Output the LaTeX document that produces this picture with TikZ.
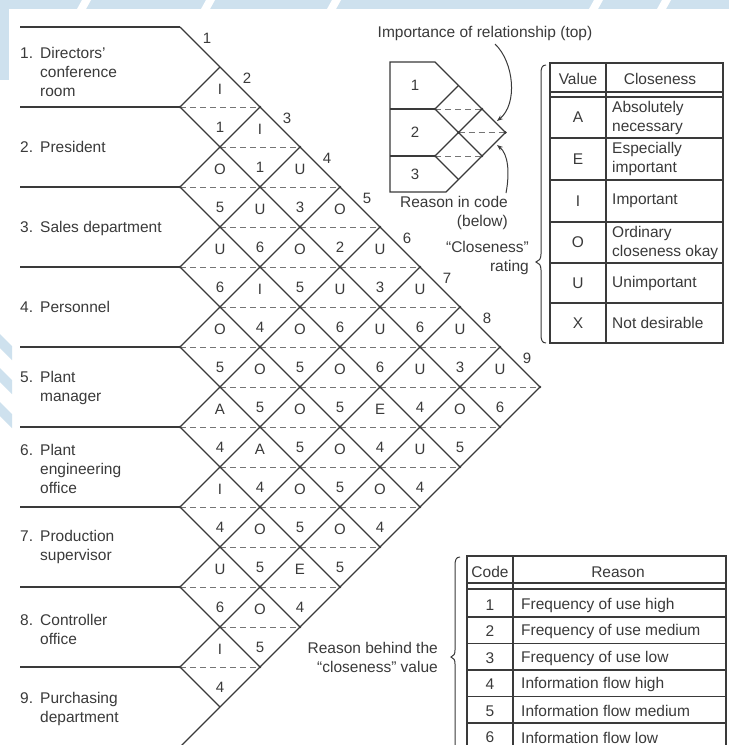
\documentclass[tikz,border=0pt]{standalone}
\usepackage{fontspec}
\setmainfont{Liberation Sans}
\usetikzlibrary{arrows.meta}
\definecolor{ink}{RGB}{58,58,58}
\definecolor{wash}{RGB}{206,225,238}
\begin{document}
\begin{tikzpicture}[x=1pt,y=-1pt,
  gridline/.style={draw=ink,line width=1.2pt},
  rowline/.style={draw=ink,line width=1.5pt},
  halfline/.style={draw=ink!70,line width=1pt,dash pattern=on 6pt off 4pt},
  joint/.style={fill=ink},
  txt/.style={font=\fontsize{15.5}{19}\selectfont,text=ink,inner sep=0pt},
  deptlabel/.style={txt,align=left,anchor=west},
  grade/.style={txt,font=\fontsize{15}{18}\selectfont},
  tabline/.style={draw=ink,line width=1.1pt},
  pointer/.style={draw=ink,line width=1pt,-{Stealth[length=6pt,width=4.5pt]}},
  note/.style={txt,align=right,anchor=east},
  entry/.style={txt,align=left,anchor=west}
]
\useasboundingbox (0,0) rectangle (729,745);
\fill[white] (0,0) rectangle (729,745);

% faint blue wash along the top and left margins
\fill[wash] (0,0) rectangle (729,9);
\fill[wash] (0,0) rectangle (9,80);
\foreach \xa in {82,206,332,594,662}
  \fill[white] (\xa,0) -- ({\xa+9},0) -- ({\xa+4},9) -- ({\xa-5},9) -- cycle;
\foreach \ya in {334,368,402}
  \fill[wash] (0,\ya) -- (0,{\ya+14}) -- (12,{\ya+26}) -- (12,{\ya+12}) -- cycle;

% ---------- relationship chart ----------
\foreach \k in {0,...,9} {
  \coordinate (L\k) at (180,{27+80*\k});
  \coordinate (E\k) at (20,{27+80*\k});
}
\foreach \k in {0,...,8} \draw[rowline] (E\k) -- (L\k);

% dashed half-lines through the diamond centres
\foreach \s in {2,...,16} {
  \pgfmathsetmacro\yy{27+40*\s}
  \pgfmathsetmacro\xl{isodd(\s) ? 220 : 180}
  \pgfmathsetmacro\xr{\s < 10 ? 180+40*\s : 900-40*\s}
  \coordinate (HL\s) at (\xl,\yy);
  \coordinate (HR\s) at (\xr,\yy);
  \draw[halfline] (HL\s) -- (HR\s);
}

% diagonals: falling from each row point, rising from each row point
\foreach \k in {0,...,8} {
  \coordinate (R\k) at ({540-40*\k},{387+40*\k});
  \draw[gridline] (L\k) -- (R\k);
}
\foreach \m in {0,...,8} {
  \coordinate (T\m) at ({220+40*\m},{67+40*\m});
  \pgfmathtruncatemacro\nx{\m+1}
  \draw[gridline] (L\nx) -- (T\m);
}

% ratings (top) and reason codes (bottom) of each pair
\foreach \i/\j/\a/\r in {
  1/2/I/1, 1/3/I/1, 1/4/U/3, 1/5/O/2, 1/6/U/3, 1/7/U/6, 1/8/U/3, 1/9/U/6,
  2/3/O/5, 2/4/U/6, 2/5/O/5, 2/6/U/6, 2/7/U/6, 2/8/U/4, 2/9/O/5,
  3/4/U/6, 3/5/I/4, 3/6/O/5, 3/7/O/5, 3/8/E/4, 3/9/U/4,
  4/5/O/5, 4/6/O/5, 4/7/O/5, 4/8/O/5, 4/9/O/4,
  5/6/A/4, 5/7/A/4, 5/8/O/5, 5/9/O/5,
  6/7/I/4, 6/8/O/5, 6/9/E/4,
  7/8/U/6, 7/9/O/5,
  8/9/I/4} {
  \pgfmathsetmacro\cx{180+40*(\j-\i)}
  \pgfmathsetmacro\cy{27+40*(\i+\j-1)}
  \node[grade] (imp\i\j) at (\cx,\cy-18) {\a};
  \node[grade] (why\i\j) at (\cx,\cy+20) {\r};
  \fill[joint] (\cx-40,\cy) circle (1.4pt);
  \fill[joint] (\cx+40,\cy) circle (1.4pt);
}

% column numbers along the upper edge
\foreach \n in {1,...,9}
  \node[grade] (col\n) at ({167+40*\n},{-2+40*\n}) {\n};

% department names
\node[deptlabel] (dept1) at (20,72) {\makebox[20pt][l]{1.}Directors'\\\hspace*{20pt}conference\\\hspace*{20pt}room};
\node[deptlabel] (dept2) at (20,147) {\makebox[20pt][l]{2.}President};
\node[deptlabel] (dept3) at (20,228) {\makebox[20pt][l]{3.}Sales department};
\node[deptlabel] (dept4) at (20,307) {\makebox[20pt][l]{4.}Personnel};
\node[deptlabel] (dept5) at (20,388) {\makebox[20pt][l]{5.}Plant\\\hspace*{20pt}manager};
\node[deptlabel] (dept6) at (20,469) {\makebox[20pt][l]{6.}Plant\\\hspace*{20pt}engineering\\\hspace*{20pt}office};
\node[deptlabel] (dept7) at (20,547) {\makebox[20pt][l]{7.}Production\\\hspace*{20pt}supervisor};
\node[deptlabel] (dept8) at (20,629) {\makebox[20pt][l]{8.}Controller\\\hspace*{20pt}office};
\node[deptlabel] (dept9) at (20,709) {\makebox[20pt][l]{9.}Purchasing\\\hspace*{20pt}department};

% ---------- key to a single cell ----------
\draw[gridline] (390,62) -- (435,62) -- (505.5,132.5) -- (446,192) -- (390,192) -- cycle;
\draw[gridline] (390,109) -- (435,109);
\draw[gridline] (390,156) -- (435,156);
\draw[halfline] (435,109) -- (482,109);
\draw[halfline] (458.5,132.5) -- (505.5,132.5);
\draw[halfline] (435,156) -- (482,156);
\draw[gridline] (435,109) -- (482,156);
\draw[gridline] (435,156) -- (458.5,179.5);
\draw[gridline] (435,109) -- (458.5,85.5);
\draw[gridline] (435,156) -- (482,109);
\foreach \p in {(435,109),(482,109),(458.5,132.5),(505.5,132.5),(435,156),(482,156)}
  \fill[joint] \p circle (1.4pt);
\node[grade] (key1) at (415,85) {1};
\node[grade] (key2) at (415,132) {2};
\node[grade] (key3) at (415,174) {3};

\node[txt] (imptitle) at (485,33) {Importance of relationship (top)};
\coordinate (impFrom) at (495,44);
\coordinate (impTip) at (497,121);
\draw[pointer] (impFrom) .. controls (514,62) and (518,104) .. (impTip);

\node[note] (reasonnote) at (508,212.5) {Reason in code\\(below)};
\coordinate (whyFrom) at (506,193);
\coordinate (whyTip) at (497,145);
\draw[pointer] (whyFrom) .. controls (510,172) and (508,154) .. (whyTip);

\node[note] (ratingnote) at (529,257.5) {``Closeness''\\rating};

% brace gathering the closeness table
\draw[ink,line width=1pt] (546,65) .. controls (542,65) and (541,68) .. (541,74) -- (541,254)
  .. controls (541,259) and (539,261) .. (536,262) .. controls (539,263) and (541,265) .. (541,270)
  -- (541,334) .. controls (541,340) and (542,343) .. (546,343);

% ---------- closeness table ----------
\draw[tabline] (550,63) rectangle (723,343);
\draw[tabline] (606,63) -- (606,343);
\draw[tabline] (550,92) -- (723,92);
\draw[tabline] (550,97) -- (723,97);
\foreach \yr in {138,180,222,263,303} \draw[tabline] (550,\yr) -- (723,\yr);
\node[txt] (valhead) at (578,79) {Value};
\node[txt] (closehead) at (660,79) {Closeness};
\foreach \v/\yc/\t in {A/117.5/{Absolutely\\necessary}, E/159/{Especially\\important},
  I/201/{Important}, O/242.5/{Ordinary\\closeness okay}, U/283/{Unimportant}, X/323/{Not desirable}} {
  \node[txt] (val\v) at (578,\yc) {\v};
  \node[entry] (desc\v) at (612,\yc) {\t};
}

% ---------- reason code table ----------
\node[note] (codenote) at (438,657.5) {Reason behind the\\``closeness'' value};
\draw[ink,line width=1pt] (460,557) .. controls (456,557) and (455,560) .. (455,566) -- (455,650)
  .. controls (455,654) and (454,656) .. (451,657) .. controls (454,658) and (455,660) .. (455,664)
  -- (455,760);
\draw[tabline] (467,760) -- (467,556) -- (726,556) -- (726,760);
\draw[tabline] (513,556) -- (513,760);
\draw[tabline] (467,583) -- (726,583);
\draw[tabline] (467,589) -- (726,589);
\foreach \yr in {617,643.5,670,696.5,723} \draw[tabline] (467,\yr) -- (726,\yr);
\node[txt] (codehead) at (490,572) {Code};
\node[txt] (reasonhead) at (618,572) {Reason};
\foreach \c/\yc/\t in {1/605/Frequency of use high, 2/631.5/Frequency of use medium,
  3/658/Frequency of use low, 4/684.5/Information flow high,
  5/711/Information flow medium, 6/737.5/Information flow low} {
  \node[txt] (code\c) at (490,\yc) {\c};
  \node[entry] (reason\c) at (521,\yc) {\t};
}
\end{tikzpicture}
\end{document}
